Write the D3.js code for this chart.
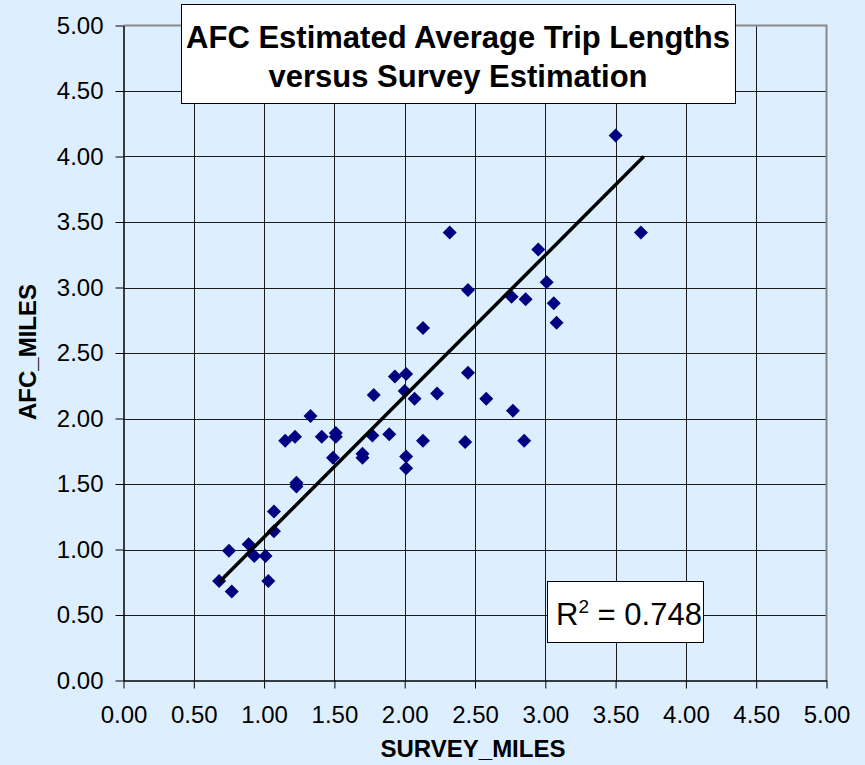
<!DOCTYPE html>
<html>
<head>
<meta charset="utf-8">
<script src="https://cdn.jsdelivr.net/npm/d3@7"></script>
<style>
  html, body { margin: 0; padding: 0; background: #DDEEFF; }
  svg { display: block; }
  text { font-family: "Liberation Sans", Arial, sans-serif; }
</style>
</head>
<body>
<svg id="chart" width="865" height="765"></svg>
<script>
// ---- data ----
const surveyMiles = [0.68, 0.77, 0.75, 0.89, 0.93, 1.01, 1.03, 1.07, 1.07, 1.23,
  1.23, 1.15, 1.22, 1.33, 1.41, 1.51, 1.51, 1.49, 1.70, 1.70,
  1.77, 1.78, 1.89, 1.93, 2.01, 2.00, 2.07, 2.01, 2.01, 2.13,
  2.13, 2.23, 2.32, 2.43, 2.45, 2.45, 2.58, 2.77, 2.76, 2.85,
  2.86, 2.95, 3.01, 3.06, 3.08, 3.50, 3.68];
const afcMiles = [0.76, 0.68, 0.99, 1.04, 0.95, 0.95, 0.76, 1.29, 1.14, 1.51,
  1.48, 1.83, 1.86, 2.02, 1.86, 1.89, 1.86, 1.70, 1.73, 1.70,
  1.87, 2.18, 1.88, 2.32, 2.34, 2.21, 2.15, 1.71, 1.62, 1.83,
  2.69, 2.19, 3.42, 1.82, 2.98, 2.35, 2.15, 2.06, 2.93, 1.83,
  2.91, 3.29, 3.04, 2.88, 2.73, 4.16, 3.42];
// trendline end points
const trendX = [0.68, 3.70];
const trendY = [0.75, 4.00];
const xTicks = [0, 0.5, 1, 1.5, 2, 2.5, 3, 3.5, 4, 4.5, 5];
const yTicks = [0, 0.5, 1, 1.5, 2, 2.5, 3, 3.5, 4, 4.5, 5];
const titleLines = ["AFC Estimated Average Trip Lengths", "versus Survey Estimation"];
const xTitle = "SURVEY_MILES";
const yTitle = "AFC_MILES";
const rSquared = "0.748";

// ---- layout ----
const svg = d3.select("#chart");
const W = 865, H = 765;
const L = 123.5, R = 826.5, T = 25.5, B = 680.5;

svg.append("rect").attr("width", W).attr("height", H).attr("fill", "#DDEEFF");

const x = d3.scaleLinear().domain([0, 5]).range([L, R]);
const y = d3.scaleLinear().domain([0, 5]).range([B, T]);

// gridlines
const grid = svg.append("g");
grid.selectAll("line.v").data(xTicks.filter(d => d > 0 && d < 5)).join("line")
  .attr("x1", d => Math.round(x(d)) + 0.5).attr("x2", d => Math.round(x(d)) + 0.5)
  .attr("y1", T).attr("y2", B)
  .attr("stroke", "#1a1a1a").attr("stroke-width", 1);
grid.selectAll("line.h").data(yTicks.filter(d => d > 0 && d < 5)).join("line")
  .attr("y1", d => Math.round(y(d)) + 0.5).attr("y2", d => Math.round(y(d)) + 0.5)
  .attr("x1", L).attr("x2", R)
  .attr("stroke", "#1a1a1a").attr("stroke-width", 1);

// gray top/right border
svg.append("path")
  .attr("d", `M${L},${T}H${R}V${B}`)
  .attr("fill", "none").attr("stroke", "#888").attr("stroke-width", 2);

// axes
const xAxis = svg.append("g").attr("transform", `translate(0,${B})`)
  .call(d3.axisBottom(x).tickValues(xTicks).tickFormat(d3.format(".2f"))
    .tickSize(8).tickSizeOuter(0).tickPadding(17));
const yAxis = svg.append("g").attr("transform", `translate(${L},0)`)
  .call(d3.axisLeft(y).tickValues(yTicks).tickFormat(d3.format(".2f"))
    .tickSize(8).tickSizeOuter(0).tickPadding(12));
[xAxis, yAxis].forEach(g => {
  g.selectAll("text").attr("font-size", 24).attr("fill", "#000")
    .attr("font-family", "Liberation Sans, Arial, sans-serif");
  g.selectAll("line").attr("stroke", "#000");
  g.select(".domain").attr("stroke", "#000").attr("stroke-width", 1.5);
});

// points
const sym = d3.symbol().type(d3.symbolSquare).size(98);
svg.append("g").selectAll("path").data(surveyMiles.map((v, i) => [v, afcMiles[i]])).join("path")
  .attr("d", sym)
  .attr("transform", d => `translate(${x(d[0])},${y(d[1])}) rotate(45)`)
  .attr("fill", "#000080");

// trendline
svg.append("path")
  .datum(trendX.map((v, i) => [v, trendY[i]]))
  .attr("d", d3.line().x(d => x(d[0])).y(d => y(d[1])))
  .attr("fill", "none").attr("stroke", "#000").attr("stroke-width", 3.5);

// title box
svg.append("rect").attr("x", 181.5).attr("y", 4.5).attr("width", 554).attr("height", 99)
  .attr("fill", "#fff").attr("stroke", "#000").attr("stroke-width", 1);
svg.append("text").attr("x", 458).attr("y", 48).attr("text-anchor", "middle")
  .attr("font-size", 31).attr("font-weight", "bold").text(titleLines[0]);
svg.append("text").attr("x", 458).attr("y", 87).attr("text-anchor", "middle")
  .attr("font-size", 31).attr("font-weight", "bold").text(titleLines[1]);

// R² box
svg.append("rect").attr("x", 547.5).attr("y", 581.5).attr("width", 156).attr("height", 61)
  .attr("fill", "#fff").attr("stroke", "#000").attr("stroke-width", 1);
const rt = svg.append("text").attr("x", 556).attr("y", 625).attr("font-size", 31);
rt.append("tspan").text("R");
rt.append("tspan").attr("font-size", 19).attr("dy", -12).text("2");
rt.append("tspan").attr("dy", 12).text(" = " + rSquared);

// axis titles
svg.append("text").attr("x", 473).attr("y", 757).attr("text-anchor", "middle")
  .attr("font-size", 24).attr("font-weight", "bold").text(xTitle);
svg.append("text").attr("transform", "translate(36,352) rotate(-90)").attr("text-anchor", "middle")
  .attr("font-size", 24).attr("font-weight", "bold").text(yTitle);
</script>
</body>
</html>
